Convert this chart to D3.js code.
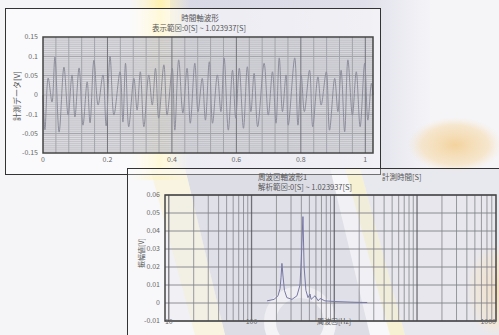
<!DOCTYPE html>
<html>
<head>
<meta charset="utf-8">
<script src="https://cdn.jsdelivr.net/npm/d3@7"></script>
<style>
  body { margin: 0; background: #f6f6f9; }
  svg { display: block; font-family: "Noto Sans CJK JP", "Noto Sans", sans-serif; }
</style>
</head>
<body>
<div id="chart"></div>
<script>
// ---- time waveform (extremes) ----
const waveTime = [0, 0.006, 0.016, 0.028, 0.037, 0.050, 0.065, 0.078, 0.090, 0.099, 0.112, 0.124, 0.137, 0.146,
  0.158, 0.171, 0.186, 0.196, 0.208, 0.220, 0.239, 0.248, 0.256, 0.266, 0.282, 0.292, 0.302, 0.313, 0.328,
  0.339, 0.349, 0.359, 0.375, 0.385, 0.401, 0.409, 0.421, 0.434, 0.447, 0.457, 0.471, 0.481, 0.494, 0.504,
  0.516, 0.526, 0.541, 0.552, 0.562, 0.575, 0.588, 0.598, 0.609, 0.622, 0.634, 0.645, 0.655, 0.666, 0.686,
  0.699, 0.712, 0.723, 0.733, 0.743, 0.754, 0.761, 0.781, 0.791, 0.801, 0.811, 0.827, 0.837, 0.853, 0.863,
  0.879, 0.889, 0.905, 0.915, 0.925, 0.936, 0.946, 0.960, 0.972, 0.984, 0.998, 1.008, 1.019, 1.0239];
const waveVolt = [0, -0.09, 0.044, -0.018, 0.098, -0.096, 0.072, -0.052, 0.052, -0.057, 0.07, -0.078, 0.034, -0.072,
  0.09, -0.026, 0.052, -0.08, 0.1, -0.052, 0.06, -0.07, 0.082, -0.082, 0.043, -0.039, 0.060, -0.082, 0.052,
  -0.026, 0.069, -0.060, 0.078, -0.052, 0.069, -0.091, 0.091, -0.047, 0.069, -0.073, 0.082, -0.043, 0.043, -0.065,
  0.086, -0.073, 0.052, -0.043, 0.096, -0.091, 0.064, -0.060, 0.069, -0.086, 0.073, -0.043, 0.056, -0.082, 0.082,
  -0.052, 0.060, -0.073, 0.096, -0.043, 0.052, -0.078, 0.096, -0.078, 0.052, -0.043, 0.064, -0.082, 0.047, -0.026,
  0.060, -0.091, 0.043, -0.043, 0.064, -0.095, 0.091, -0.052, 0.060, -0.082, 0.082, -0.065, 0.03, 0];

const timeXTicks = [0, 0.2, 0.4, 0.6, 0.8, 1];
const timeYTicks = [0.15, 0.1, 0.05, 0, -0.05, -0.1, -0.15];
const timeYLabels = ['0.15', '0.1', '0.05', '0', '-0.1', '-0.05', '-0.15'];

// ---- spectrum ----
const specFreq = [154, 187, 209, 221, 227, 233, 240, 250, 267, 308, 354, 385, 400, 418, 432, 454, 481, 509, 524,
  585, 640, 673, 770, 1020, 1347, 1780, 2350, 2500];
const specAmp = [0.0012, 0.002, 0.004, 0.008, 0.014, 0.022, 0.015, 0.007, 0.003, 0.002, 0.004, 0.01, 0.025, 0.048,
  0.02, 0.007, 0.003, 0.005, 0.002, 0.004, 0.0012, 0.0025, 0.0012, 0.0008, 0.0006, 0.0004, 0.0003, 0.0003];

const specYTicks = [0.06, 0.05, 0.04, 0.03, 0.02, 0.01, 0, -0.01];
const specXTicks = [10, 100, 90000];
const specXLabels = ['10', '100', '1000'];

const width = 499;
const height = 335;

const svg = d3.select('#chart')
  .append('svg')
  .attr('width', width)
  .attr('height', height);

// ---- background decoration ----
const defs = svg.append('defs');
const yb = defs.append('linearGradient').attr('id', 'yband');
yb.append('stop').attr('offset', '0%').attr('stop-color', '#fff6c8').attr('stop-opacity', 0);
yb.append('stop').attr('offset', '50%').attr('stop-color', '#fff1b0').attr('stop-opacity', 1);
yb.append('stop').attr('offset', '100%').attr('stop-color', '#fff6c8').attr('stop-opacity', 0);
const lav = defs.append('linearGradient').attr('id', 'lav');
lav.append('stop').attr('offset', '0%').attr('stop-color', '#d8d8e6');
lav.append('stop').attr('offset', '75%').attr('stop-color', '#e0e0ea');
lav.append('stop').attr('offset', '100%').attr('stop-color', '#f4f4f8');
const blob = defs.append('radialGradient').attr('id', 'blob');
blob.append('stop').attr('offset', '0%').attr('stop-color', '#f3cf94').attr('stop-opacity', 0.9);
blob.append('stop').attr('offset', '70%').attr('stop-color', '#f6dcb0').attr('stop-opacity', 0.6);
blob.append('stop').attr('offset', '100%').attr('stop-color', '#f8e8cc').attr('stop-opacity', 0);

const bg = svg.append('g');
bg.append('rect').attr('width', width).attr('height', height).attr('fill', '#f5f5f8');
bg.append('rect').attr('x', 170).attr('y', 0).attr('width', 260).attr('height', 175).attr('fill', 'url(#lav)');
bg.append('rect').attr('x', 130).attr('y', 0).attr('width', 60).attr('height', 180).attr('fill', 'url(#yband)');
bg.append('path').attr('d', 'M185,168 L330,168 L370,335 L225,335 Z').attr('fill', '#cfcfdc');
bg.append('path').attr('d', 'M150,168 L185,168 L225,335 L195,335 Z').attr('fill', '#f6ecbc').attr('opacity', 0.6);
bg.append('path').attr('d', 'M345,168 L360,168 L405,335 L390,335 Z').attr('fill', '#f3e7a8').attr('opacity', 0.7);
bg.append('path').attr('d', 'M360,168 L499,168 L499,335 L405,335 Z').attr('fill', '#d8d8e4').attr('opacity', 0.8);
bg.append('circle').attr('cx', 300).attr('cy', 322).attr('r', 30)
  .attr('fill', 'none').attr('stroke', '#f4f4f8').attr('stroke-width', 12).attr('opacity', 0.85);
bg.append('ellipse').attr('cx', 455).attr('cy', 145).attr('rx', 48).attr('ry', 28).attr('fill', 'url(#blob)');
bg.append('ellipse').attr('cx', 495).attr('cy', 290).attr('rx', 30).attr('ry', 48).attr('fill', 'url(#blob)');

// =============== top panel: time waveform ===============
svg.append('rect')
  .attr('x', 5.5).attr('y', 8.5).attr('width', 375).attr('height', 166)
  .attr('fill', '#ffffff').attr('fill-opacity', 0.5)
  .attr('stroke', '#333').attr('stroke-width', 1);

const tm = { left: 43, right: 373, top: 37, bottom: 153 };
const tx = d3.scaleLinear().domain([0, 1.0239]).range([tm.left, tm.right]);
const ty = d3.scaleLinear().domain([-0.15, 0.15]).range([tm.bottom, tm.top]);

const topG = svg.append('g');
topG.append('rect')
  .attr('x', tm.left).attr('y', tm.top)
  .attr('width', tm.right - tm.left).attr('height', tm.bottom - tm.top)
  .attr('fill', '#c6c6cc').attr('fill-opacity', 0.55);

// dense horizontal grid
topG.append('g')
  .selectAll('line')
  .data(d3.range(-0.145, 0.15, 0.005))
  .enter()
  .append('line')
  .attr('x1', tm.left).attr('x2', tm.right)
  .attr('y1', d => ty(d)).attr('y2', d => ty(d))
  .attr('stroke', d => Math.abs(Math.round(d * 1000) % 50) === 0 ? '#8a8a92' : '#babac2')
  .attr('stroke-width', 0.8);

// vertical grid
topG.append('g')
  .selectAll('line')
  .data(d3.range(0.04, 1.03, 0.04))
  .enter()
  .append('line')
  .attr('x1', d => tx(d)).attr('x2', d => tx(d))
  .attr('y1', tm.top).attr('y2', tm.bottom)
  .attr('stroke', d => Math.round(d * 100) % 20 === 0 ? '#74747c' : '#a4a4ac')
  .attr('stroke-width', 1);

topG.append('path')
  .datum(waveTime.map((t, i) => [t, waveVolt[i]]))
  .attr('fill', 'none')
  .attr('stroke', '#8e8e9c')
  .attr('stroke-width', 1)
  .attr('d', d3.line().curve(d3.curveCatmullRom).x(d => tx(d[0])).y(d => ty(d[1])));

topG.append('rect')
  .attr('x', tm.left).attr('y', tm.top)
  .attr('width', tm.right - tm.left).attr('height', tm.bottom - tm.top)
  .attr('fill', 'none').attr('stroke', '#444').attr('stroke-width', 1.5);

topG.selectAll('.ytl')
  .data(timeYTicks)
  .enter()
  .append('text')
  .attr('x', 38).attr('y', d => ty(d)).attr('dy', '0.35em')
  .attr('text-anchor', 'end')
  .style('font-size', '7px').style('fill', '#666')
  .text((d, i) => timeYLabels[i]);

topG.selectAll('.xtl')
  .data(timeXTicks)
  .enter()
  .append('text')
  .attr('x', d => tx(d)).attr('y', 162)
  .attr('text-anchor', 'middle')
  .style('font-size', '7px').style('fill', '#666')
  .text(d => d);

topG.append('text')
  .attr('x', 200).attr('y', 21).attr('text-anchor', 'middle')
  .style('font-size', '7.5px').style('fill', '#555')
  .text('時間軸波形');
topG.append('text')
  .attr('x', 199).attr('y', 31).attr('text-anchor', 'middle')
  .style('font-size', '7.5px').style('fill', '#555')
  .text('表示範⊠:0[S] ~ 1.023937[S]');
topG.append('text')
  .attr('transform', 'translate(20,96) rotate(-90)')
  .attr('text-anchor', 'middle')
  .style('font-size', '8px').style('fill', '#555')
  .text('計測データ[V]');

// =============== bottom panel: spectrum ===============
svg.append('rect')
  .attr('x', 127.5).attr('y', 168.5).attr('width', 380).attr('height', 180)
  .attr('fill', '#ffffff').attr('fill-opacity', 0.3)
  .attr('stroke', '#333').attr('stroke-width', 1);

const fm = { left: 165, right: 496, top: 195, bottom: 321 };
const fx = d3.scaleLog().domain([9, 90000]).range([fm.left, fm.right]);
const fy = d3.scaleLinear().domain([-0.01, 0.06]).range([fm.bottom, fm.top]);

const botG = svg.append('g');
botG.append('rect')
  .attr('x', fm.left).attr('y', fm.top)
  .attr('width', fm.right - fm.left).attr('height', fm.bottom - fm.top)
  .attr('fill', '#e4e4ea').attr('fill-opacity', 0.35);

botG.append('g')
  .selectAll('line')
  .data(specYTicks)
  .enter()
  .append('line')
  .attr('x1', fm.left).attr('x2', fm.right)
  .attr('y1', d => fy(d)).attr('y2', d => fy(d))
  .attr('stroke', '#74747c').attr('stroke-width', 1).attr('opacity', 0.8);

const logLines = fx.ticks().filter(f => f > 9 && f < 90000);
botG.append('g')
  .selectAll('line')
  .data(logLines)
  .enter()
  .append('line')
  .attr('x1', d => fx(d)).attr('x2', d => fx(d))
  .attr('y1', fm.top).attr('y2', fm.bottom)
  .attr('stroke', d => Math.log10(d) % 1 === 0 ? '#55555c' : '#84848c')
  .attr('stroke-width', d => Math.log10(d) % 1 === 0 ? 1.3 : 1)
  .attr('opacity', 0.8);

botG.append('path')
  .datum(specFreq.map((f, i) => [f, specAmp[i]]))
  .attr('fill', 'none')
  .attr('stroke', '#7878a6')
  .attr('stroke-width', 1)
  .attr('d', d3.line().x(d => fx(d[0])).y(d => fy(d[1])));

botG.append('rect')
  .attr('x', fm.left).attr('y', fm.top)
  .attr('width', fm.right - fm.left).attr('height', fm.bottom - fm.top)
  .attr('fill', 'none').attr('stroke', '#444').attr('stroke-width', 1.5);

botG.selectAll('.ytl')
  .data(specYTicks)
  .enter()
  .append('text')
  .attr('x', 160).attr('y', d => fy(d)).attr('dy', '0.35em')
  .attr('text-anchor', 'end')
  .style('font-size', '7px').style('fill', '#666')
  .text(d => d);

botG.selectAll('.xtl')
  .data(specXTicks)
  .enter()
  .append('text')
  .attr('x', d => fx(d)).attr('y', fm.bottom + 3)
  .attr('text-anchor', (d, i) => i === specXTicks.length - 1 ? 'end' : 'middle')
  .style('font-size', '7px').style('fill', '#666')
  .text((d, i) => specXLabels[i]);

botG.append('text')
  .attr('x', 334).attr('y', fm.bottom + 3).attr('text-anchor', 'middle')
  .style('font-size', '7px').style('fill', '#555')
  .text('周波⊠[Hz]');

botG.append('text')
  .attr('x', 258).attr('y', 180)
  .style('font-size', '7.5px').style('fill', '#555')
  .text('周波⊠軸波形1');
botG.append('text')
  .attr('x', 258).attr('y', 190)
  .style('font-size', '7.5px').style('fill', '#555')
  .text('解析範⊠:0[S] ~ 1.023937[S]');
botG.append('text')
  .attr('x', 382).attr('y', 180)
  .style('font-size', '7.5px').style('fill', '#555')
  .text('計測時間[S]');
botG.append('text')
  .attr('transform', 'translate(144,253) rotate(-90)')
  .attr('text-anchor', 'middle')
  .style('font-size', '7px').style('fill', '#555')
  .text('振幅値[V]');
</script>
</body>
</html>
